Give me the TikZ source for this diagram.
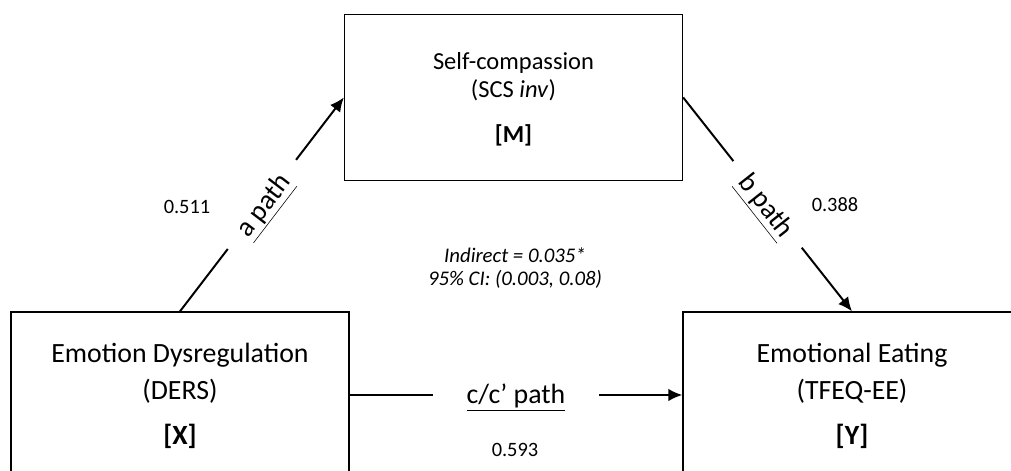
\documentclass[tikz,border=0pt]{standalone}
\usepackage{fontspec}
\setmainfont{Carlito}
\usetikzlibrary{arrows.meta, positioning}

\tikzset{
  var/.style={draw, rectangle, line width=0.9pt, minimum width=8.45cm, minimum height=4.15cm},
  pathlabel/.style={fill=white, inner sep=1pt, minimum height=0.6cm, font=\fontsize{19.8}{22}\selectfont},
  effect/.style={-{Latex[length=10pt, width=9pt]}, line width=1.4pt},
  coef/.style={font=\fontsize{14.5}{17}\selectfont}
}

\begin{document}
\begin{tikzpicture}[x=0.025cm, y=0.025cm, thick]
        \useasboundingbox (0,0) rectangle (1011,471);
        \clip (0,0) rectangle (1011,471);

        % Variables
        \node (M) [var] at (513.5,373.5) {};
        \node (X) [var] at (180,76) {};
        \node (Y) [var] at (852,76) {};

        % Variable texts
        \node (Mtext) [align=center, font=\fontsize{17.4}{20}\selectfont] at (513.5,371.5)
          {Self-compassion\\(SCS \textit{inv})\\[12pt]\textbf{[M]}};
        \node (Xtext) [align=center, font=\fontsize{19.8}{26.3}\selectfont] at (180,75)
          {Emotion Dysregulation\\(DERS)\\[5.7pt]\textbf{[X]}};
        \node (Ytext) [align=center, font=\fontsize{19.8}{26.3}\selectfont] at (852,75)
          {Emotional Eating\\(TFEQ-EE)\\[5.7pt]\textbf{[Y]}};

        % Paths
        \draw[effect] (X.north) -- node[pathlabel, sloped, minimum width=2.8cm, yshift=-3pt] {\underline{a path}} (M.west);
        \draw[effect] (M.east) -- node[pathlabel, sloped, minimum width=2.75cm, yshift=-3pt] {\underline{b path}} (Y.north);
        \draw[effect] (X.east) -- node[pathlabel, minimum width=4.15cm, yshift=-2pt] {\underline{c/c’ path}} (Y.west);

        % Coefficients
        \node (acoef) [coef] at (187,264) {0.511};
        \node (bcoef) [coef] at (835,266) {0.388};
        \node (ccoef) [coef] at (515,21) {0.593};
        \node (indirect) [align=center, font=\fontsize{14.8}{16.4}\selectfont\itshape] at (515,202.5)
          {Indirect = 0.035*\\95\% CI: (0.003, 0.08)};
\end{tikzpicture}
\end{document}
